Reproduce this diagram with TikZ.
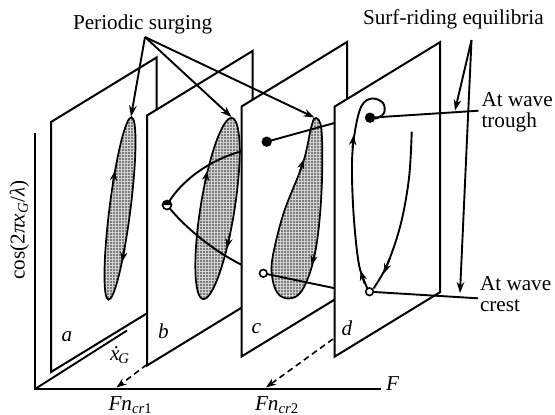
\documentclass[tikz,border=0pt]{standalone}
\usepackage{fontspec}
\setmainfont{Liberation Serif}
\usetikzlibrary{arrows.meta,patterns.meta}
\begin{document}
\begin{tikzpicture}[x=0.5pt,y=-0.5pt,
  every node/.style={inner sep=0pt, outer sep=0pt, font=\fontsize{10.6}{12}\selectfont},
  ln/.style={line width=0.95pt},
  plane/.style={line width=1pt, draw=black, fill=white, line join=miter},
  lobe/.style={line width=0.85pt, draw=black, preaction={fill=gray!35}, pattern={Dots[distance=1.5pt,radius=0.42pt]}, pattern color=black!85},
  arr/.style={line width=0.95pt, -{Stealth[length=5.5pt,width=3.8pt,inset=1.8pt]}},
  tipar/.style={line width=0.85pt, -{Stealth[length=5pt,width=3.6pt,inset=1.6pt]}},
  dsh/.style={line width=0.8pt, dash pattern=on 3pt off 2pt, -{Stealth[length=5pt,width=3.6pt,inset=1.6pt]}},
  opendot/.style={line width=0.8pt, draw=black, fill=white}
]
\useasboundingbox (0,0) rectangle (555,414);

% axes
\coordinate (O) at (35,389);
\coordinate (Vtop) at (35,133);
\coordinate (Hend) at (381,389);
\coordinate (Dend) at (127,330.5);
\draw[ln] (Vtop) -- (O) -- (Hend);
\draw[ln] (O) -- (Dend);

% plane a
\coordinate (aBL) at (51,372);
\draw[plane] (aBL) -- ++(0,-250) -- ++(105.5,-64.5) -- ++(0,250) -- cycle;
\draw[lobe, rotate around={-7.2:(120,208.5)}] (120,208.5) ellipse [x radius=10.5, y radius=92];
\draw[tipar] (112.8,184.4) -- (115.0,170.6);
\draw[tipar] (124.6,248.3) -- (122.0,262.1);

% plane b
\coordinate (bBL) at (147,365.5);
\draw[plane] (bBL) -- ++(0,-250) -- ++(105.5,-64.5) -- ++(0,250) -- cycle;
\draw[lobe, rotate around={-9.1:(217.5,208.5)}] (217.5,208.5) ellipse [x radius=17, y radius=91.7];
\draw[tipar] (204.6,184.3) -- (207.6,170.5);
\draw[tipar] (229.9,234.7) -- (226.8,248.5);
\coordinate (sb) at (167,205);
\draw[ln] (sb) .. controls (180,182) and (208,160) .. (244,150.5);
\draw[ln] (sb) .. controls (185,228) and (215,252) .. (244,266);
\fill[white] (sb) circle[radius=4.5];
\fill (sb) ++(-4.5,0) arc[start angle=180,end angle=360,radius=4.5] -- cycle;
\draw[line width=0.8pt] (sb) circle[radius=4.5];

% plane c
\coordinate (cBL) at (241.5,356.5);
\draw[plane] (cBL) -- ++(0,-250) -- ++(105.5,-64.5) -- ++(0,250) -- cycle;
\draw[lobe] plot[smooth cycle, tension=0.6] coordinates {(316,118) (321.5,130) (322,180) (318.5,230) (312,266) (301,292) (288.5,298.5) (277.5,293) (272,276) (273,255) (284,212) (303,163) (311.5,126)};
\draw[tipar] (299.5,172.5) -- (303.9,159.2);
\draw[tipar] (315,252) -- (311.6,265.5);
\coordinate (ctr) at (266.7,141.7);
\coordinate (ccr) at (263.3,273.3);
\coordinate (ctrE) at (337,122.3);
\coordinate (ccrE) at (337,288.7);
\draw[ln] (ctr) -- (ctrE);
\draw[ln] (ccr) -- (ccrE);
\fill (ctr) circle[radius=5.2];
\draw[opendot] (ccr) circle[radius=3.8];

% dashed arrow 2 (emerges from behind plane d)
\coordinate (ds2) at (333,339);
\coordinate (de2) at (266,387.5);
\draw[dsh] (ds2) -- (de2);

% plane d
\coordinate (dBL) at (334.5,356.7);
\draw[plane] (dBL) -- ++(0,-250) -- ++(105.5,-64.5) -- ++(0,250) -- cycle;
\coordinate (dtr) at (370,117.7);
\coordinate (dcr) at (369.5,291.7);
\coordinate (trE) at (478.5,110.7);
\coordinate (crE) at (478,298.3);
\draw[ln] (dtr) -- (trE);
\draw[ln] (dcr) -- (crE);
\draw[ln] plot[smooth, tension=0.6] coordinates {(dcr) (365,283) (358.5,262) (353.5,213) (352,163) (355,131) (361.5,106) (372,98.5) (383,103) (384,113) (376,118.5) (dtr)};
\draw[ln] plot[smooth, tension=0.6] coordinates {(411.7,131.7) (409,178) (400.5,225) (387,265) (373.5,288.5)};
\draw[tipar] (352.4,148) -- (353.6,135);
\draw[tipar] (364.4,283.5) -- (360.6,270.5);
\draw[tipar] (390,258) -- (383.8,273.5);
\fill (dtr) circle[radius=5.2];
\draw[opendot] (dcr) circle[radius=3.8];

% dashed arrow 1
\coordinate (ds1) at (147,364.5);
\coordinate (de1) at (116.5,387.5);
\draw[dsh] (ds1) -- (de1);

% annotations
\node[anchor=base west] (ps) at (73,29) {Periodic surging};
\coordinate (psO) at (145,37);
\coordinate (pa) at (131,116.5);
\coordinate (pb) at (231.5,117);
\coordinate (pc) at (314.5,117.5);
\draw[arr] (psO) -- (pa);
\draw[arr] (psO) -- (pb);
\draw[arr] (psO) -- (pc);

\node[anchor=base west] (sr) at (363,24) {Surf-riding equilibria};
\coordinate (srO) at (471.5,40);
\coordinate (srT) at (455,110.5);
\coordinate (srC) at (460,293);
\draw[arr] (srO) -- (srT);
\draw[arr] (srO) -- (srC);

\node[anchor=base west] (tr1) at (481.5,106.5) {At wave};
\node[anchor=base west] (tr2) at (481.5,127.5) {trough};
\node[anchor=base west] (cr1) at (480,290) {At wave};
\node[anchor=base west] (cr2) at (480,311.5) {crest};

% plane labels
\node[anchor=base west] (la) at (61.5,341.5) {\itshape a};
\node[anchor=base west] (lb) at (158,338) {\itshape b};
\node[anchor=base west] (lc) at (251.5,333) {\itshape c};
\node[anchor=base west] (ld) at (341.5,335) {\itshape d};

% axis labels
\node[anchor=base west] (xg) at (110,360) {{\itshape\.{x}}\textsubscript{\kern-0.5pt\itshape G}};
\node[anchor=base west] (f1) at (108.5,410.5) {{\itshape Fn}\textsubscript{\itshape cr\upshape 1}};
\node[anchor=base west] (f2) at (255,410.5) {{\itshape Fn}\textsubscript{\itshape cr\upshape 2}};
\node[anchor=base west] (fF) at (386,390) {\itshape F};
\node[rotate=90] (cosl) at (19.5,230) {cos(2{\itshape πx}\textsubscript{\itshape G}/{\itshape λ})};
\end{tikzpicture}
\end{document}
